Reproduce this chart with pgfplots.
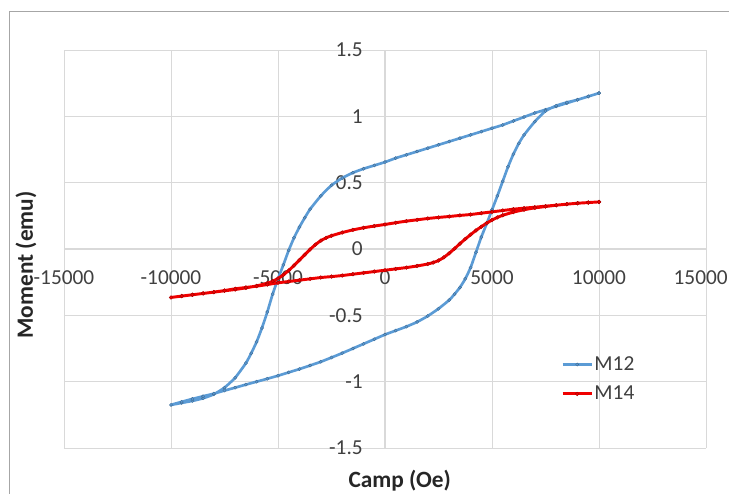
\documentclass[border=0pt]{standalone}
\usepackage{pgfplots}
\pgfplotsset{compat=1.18}
\usepackage{fontspec}
\setmainfont{Carlito}
\definecolor{bl}{HTML}{5B9BD5}
\definecolor{rd}{HTML}{F00000}
\definecolor{gridc}{HTML}{D9D9D9}
\definecolor{tickc}{HTML}{404040}
\definecolor{titlec}{HTML}{262626}
\begin{document}
\begin{tikzpicture}
\draw[gray!70, line width=0.6pt] (-41.25pt,-40pt) -- (-41.25pt,327.75pt) -- (499pt,327.75pt);
\begin{axis}[
  at={(0pt,0pt)}, anchor=south west,
  scale only axis, width=481.5pt, height=298.5pt,
  xmin=-15000, xmax=15000, ymin=-1.5, ymax=1.5,
  scaled x ticks=false, scaled y ticks=false,
  axis lines=middle, axis line style={draw=gridc, line width=0.8pt, -},
  grid=major, grid style={draw=gridc, line width=0.6pt},
  xtick={-15000,-10000,-5000,0,5000,10000,15000},
  xticklabels={-15000,-10000,-5000,0,5000,10000,\hspace*{-8pt}15000},
  ytick={-1.5,-1,-0.5,0,0.5,1,1.5},
  yticklabels={-1.5,-1,-0.5,0,0.5,1,1.5},
  hide obscured x ticks=false, hide obscured y ticks=false,
  major tick length=0pt,
  tick label style={font=\fontsize{16}{19}\selectfont, text=tickc},
  xticklabel style={anchor=center, yshift=-21.75pt},
  yticklabel style={anchor=east, inner sep=0pt, xshift=-16.5pt},
  xlabel={Camp (Oe)}, ylabel={Moment (emu)},
  label style={font=\fontsize{17.5}{20}\selectfont\bfseries, text=titlec},
  xlabel style={at={(axis description cs:0.523,-0.082)}, anchor=center},
  ylabel style={at={(axis description cs:-0.0592,0.46)}, anchor=center, rotate=90},
  legend style={draw=none, fill=none, at={(axis description cs:0.774,0.2337)}, anchor=north west,
    font=\fontsize{16}{19}\selectfont, text=tickc, inner sep=0pt, row sep=8.25pt,
    nodes={inner sep=1pt}, cells={anchor=west}},
  legend image code/.code={\draw[mark repeat=2,mark phase=2,#1] plot coordinates {(0pt,0pt) (10.875pt,0pt) (21.75pt,0pt)};},
]
\addplot[color=bl, line width=2pt, smooth, tension=0.35, mark=*, mark size=1.2pt, mark options={fill=bl, draw=bl!70!black, line width=0.3pt}] coordinates {
(10000,1.175) (9500,1.15) (9000,1.125) (8500,1.10) (8000,1.075) (7500,1.05) (7000,1.025) (6500,0.995) (6000,0.965) (5500,0.935) (5000,0.91) (4500,0.885) (4000,0.86) (3500,0.835) (3000,0.81) (2500,0.785) (2000,0.76) (1500,0.735) (1000,0.71) (500,0.685) (0,0.655) (-500,0.63) (-1000,0.605) (-1500,0.575) (-2000,0.535) (-2500,0.48) (-3000,0.40) (-3500,0.30) (-3750,0.235) (-4000,0.165) (-4250,0.085) (-4500,-0.01) (-4750,-0.12) (-5000,-0.225) (-5250,-0.34) (-5500,-0.475) (-5750,-0.595) (-6000,-0.70) (-6250,-0.785) (-6500,-0.86) (-7000,-0.97) (-7500,-1.045) (-8000,-1.095) (-8500,-1.125) (-9000,-1.145) (-9500,-1.16) (-10000,-1.175)
(-9500,-1.152) (-9000,-1.13) (-8500,-1.11) (-8000,-1.09) (-7500,-1.067) (-7000,-1.045) (-6500,-1.022) (-6000,-1.0) (-5500,-0.978) (-5000,-0.955) (-4500,-0.93) (-4000,-0.905) (-3500,-0.878) (-3000,-0.85) (-2500,-0.818) (-2000,-0.785) (-1500,-0.75) (-1000,-0.715) (-500,-0.68) (0,-0.645) (500,-0.615) (1000,-0.585) (1500,-0.55) (2000,-0.505) (2500,-0.45) (3000,-0.385) (3250,-0.34) (3500,-0.29) (3750,-0.225) (4000,-0.14) (4250,-0.025) (4500,0.09) (4750,0.19) (5000,0.295) (5250,0.40) (5500,0.51) (5750,0.62) (6000,0.715) (6250,0.795) (6500,0.86) (7000,0.96) (7500,1.04) (8000,1.08) (8500,1.105) (9000,1.125) (9500,1.15) (10000,1.175)
};
\addlegendentry{M12}
\addplot[color=rd, line width=2.2pt, smooth, tension=0.35, mark=*, mark size=1.4pt, mark options={fill=rd, draw=rd!70!black, line width=0.3pt}] coordinates {
(10000,0.355) (9500,0.35) (9000,0.345) (8500,0.338) (8000,0.33) (7500,0.323) (7000,0.315) (6500,0.308) (6000,0.30) (5500,0.29) (5000,0.28) (4500,0.27) (4000,0.26) (3500,0.253) (3000,0.245) (2500,0.238) (2000,0.23) (1500,0.22) (1000,0.21) (500,0.198) (0,0.185) (-500,0.173) (-1000,0.16) (-1500,0.144) (-2000,0.124) (-2500,0.1) (-2750,0.084) (-3000,0.063) (-3250,0.033) (-3500,-0.003) (-3750,-0.043) (-4000,-0.084) (-4250,-0.124) (-4500,-0.162) (-4750,-0.195) (-5000,-0.222) (-5250,-0.243) (-5500,-0.258) (-6000,-0.278) (-6500,-0.293) (-7000,-0.305) (-7500,-0.315) (-8000,-0.325) (-8500,-0.335) (-9000,-0.345) (-9500,-0.355) (-10000,-0.365)
(-9500,-0.355) (-9000,-0.345) (-8500,-0.335) (-8000,-0.325) (-7500,-0.313) (-7000,-0.30) (-6500,-0.29) (-6000,-0.28) (-5500,-0.268) (-5000,-0.255) (-4500,-0.245) (-4000,-0.235) (-3500,-0.225) (-3000,-0.215) (-2500,-0.208) (-2000,-0.20) (-1500,-0.19) (-1000,-0.18) (-500,-0.17) (0,-0.16) (500,-0.15) (1000,-0.14) (1500,-0.128) (2000,-0.113) (2250,-0.102) (2500,-0.087) (2750,-0.063) (3000,-0.032) (3250,0.003) (3500,0.04) (3750,0.075) (4000,0.108) (4250,0.14) (4500,0.168) (4750,0.195) (5000,0.218) (5250,0.238) (5500,0.254) (6000,0.278) (6500,0.296) (7000,0.31) (7500,0.32) (8000,0.33) (8500,0.338) (9000,0.345) (9500,0.35) (10000,0.355)
};
\addlegendentry{M14}
\end{axis}
\pgfresetboundingbox
\useasboundingbox (-48pt,-33.75pt) rectangle (499.5pt,336pt);
\end{tikzpicture}
\end{document}
